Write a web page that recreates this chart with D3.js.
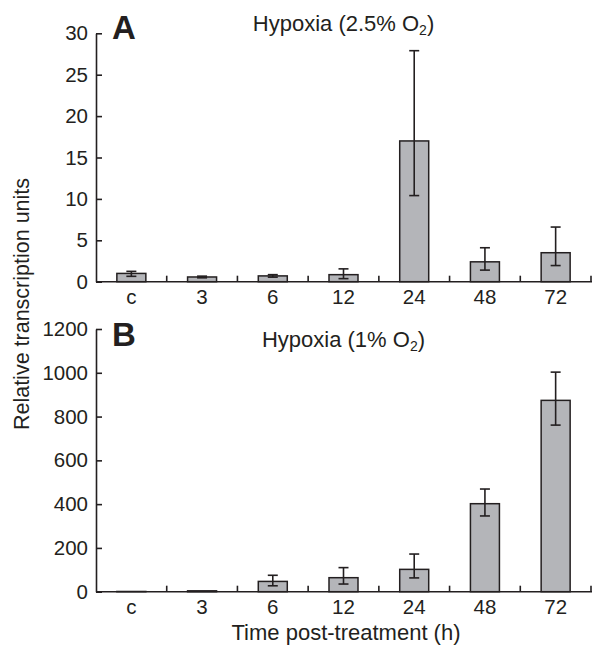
<!DOCTYPE html>
<html><head><meta charset="utf-8">
<script src="https://cdn.jsdelivr.net/npm/d3@7"></script>
<style>
body{margin:0;background:#fff;}
text{font-family:"Liberation Sans",Arial,Helvetica,sans-serif;fill:#231f20;}
</style></head>
<body><svg id="c" width="592" height="645"></svg>
<script>
const categories = ["c","3","6","12","24","48","72"];
// Panel A: Hypoxia 2.5% O2
const valuesA = [1.0, 0.57, 0.7, 0.85, 17.0, 2.4, 3.5];
const errLowA = [0.65, 0.47, 0.55, 0.37, 10.4, 1.4, 1.95];
const errHighA = [1.25, 0.67, 0.85, 1.55, 27.9, 4.1, 6.6];
const ticksA = [0,5,10,15,20,25,30];
// Panel B: Hypoxia 1% O2
const valuesB = [1, 4, 47, 64, 102, 402, 874];
const errLowB = [1, 4, 27, 35, 63, 346, 761];
const errHighB = [1, 4, 75, 110, 172, 469, 1003];
const ticksB = [0,200,400,600,800,1000,1200];

const svg = d3.select("#c");
const left = 96, right = 591;
const pad = 0.59;
const x = d3.scaleBand().domain(categories).range([left, right]).paddingInner(pad).paddingOuter(pad/2);
const ink = "#231f20";

function panel(cfg){
  const y = d3.scaleLinear().domain([0, cfg.max]).range([cfg.bottom, cfg.top]);
  const g = svg.append("g");
  g.selectAll("rect.bar").data(cfg.values).join("rect")
    .attr("x",(d,i)=>x(categories[i]))
    .attr("width",x.bandwidth())
    .attr("y",d=>y(d))
    .attr("height",d=>y(0)-y(d))
    .attr("fill","#b4b5b9").attr("stroke",ink).attr("stroke-width",1.5);
  const cap = 5;
  cfg.values.forEach((v,i)=>{
    const lo = cfg.low[i], hi = cfg.high[i];
    if (hi - lo < 0.001*cfg.max) return;
    const cx = x(categories[i]) + x.bandwidth()/2;
    g.append("line").attr("x1",cx).attr("x2",cx).attr("y1",y(lo)).attr("y2",y(hi)).attr("stroke",ink).attr("stroke-width",1.6);
    [lo,hi].forEach(e=>g.append("line").attr("x1",cx-cap).attr("x2",cx+cap).attr("y1",y(e)).attr("y2",y(e)).attr("stroke",ink).attr("stroke-width",1.6));
  });
  const ya = g.append("g").attr("transform",`translate(${left},0)`)
    .call(d3.axisLeft(y).tickValues(cfg.ticks).tickFormat(d3.format("d")).tickSize(-6).tickSizeOuter(0).tickPadding(8));
  ya.select(".domain").attr("stroke",ink).attr("stroke-width",1.6);
  ya.selectAll(".tick line").attr("stroke",ink).attr("stroke-width",1.6);
  ya.selectAll(".tick text").style("font-size","20.5px").attr("fill",ink)
    .style("font-family",'"Liberation Sans",Arial,sans-serif');
  g.append("line").attr("x1",left).attr("x2",right+1).attr("y1",y(0)).attr("y2",y(0)).attr("stroke",ink).attr("stroke-width",1.6);
  g.selectAll("line.xt").data(categories).join("line").attr("class","xt")
    .attr("x1",d=>x(d)+x.bandwidth()+x.step()*pad/2)
    .attr("x2",d=>x(d)+x.bandwidth()+x.step()*pad/2)
    .attr("y1",y(0)).attr("y2",y(0)-6).attr("stroke",ink).attr("stroke-width",1.6);
  g.selectAll("text.xl").data(categories).join("text").attr("class","xl")
    .attr("x",d=>x(d)+x.bandwidth()/2).attr("y",y(0)+22.5)
    .attr("text-anchor","middle").style("font-size","20.5px").text(d=>d);
  g.append("text").attr("x",112).attr("y",cfg.letterY).style("font-size","33px").style("font-weight","bold").text(cfg.letter);
  const t = g.append("text").attr("x",(left+right)/2).attr("y",cfg.titleY).attr("text-anchor","middle").style("font-size","22px");
  t.append("tspan").text(cfg.title);
  t.append("tspan").attr("dy",4).style("font-size","14px").text("2");
  t.append("tspan").attr("dy",-4).text(")");
}

panel({values:valuesA,low:errLowA,high:errHighA,ticks:ticksA,max:30,top:33.3,bottom:281.7,letter:"A",letterY:39,title:"Hypoxia (2.5% O",titleY:31});
panel({values:valuesB,low:errLowB,high:errHighB,ticks:ticksB,max:1200,top:329,bottom:591.7,letter:"B",letterY:346,title:"Hypoxia (1% O",titleY:347});

svg.append("text").attr("transform","translate(29,304) rotate(-90)").attr("text-anchor","middle").style("font-size","21.5px").text("Relative transcription units");
svg.append("text").attr("x",346).attr("y",640).attr("text-anchor","middle").style("font-size","22px").text("Time post-treatment (h)");
</script></body></html>
